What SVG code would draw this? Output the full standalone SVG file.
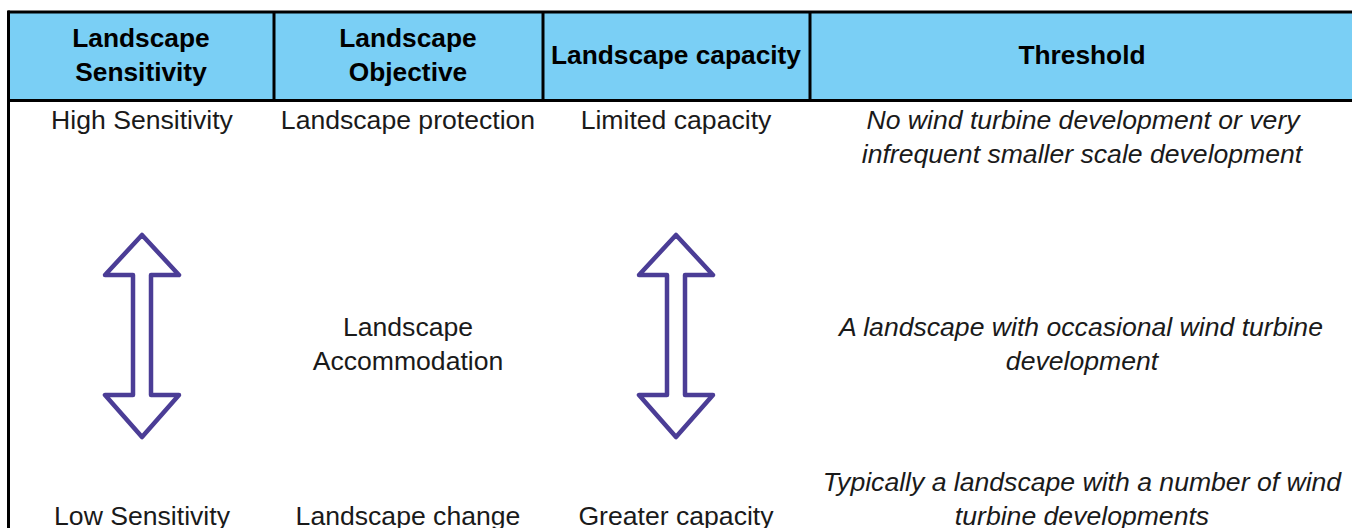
<svg xmlns="http://www.w3.org/2000/svg" xmlns:xlink="http://www.w3.org/1999/xlink" width="1352" height="528" viewBox="0 0 1352 528">
<style>
.hd{font-family:"Liberation Sans",Arial,sans-serif;font-size:26.3px;font-weight:bold;fill:#000;text-anchor:middle}
.tx{font-family:"Liberation Sans",Arial,sans-serif;font-size:26.6px;fill:#1a1a1a;text-anchor:middle}
.it{font-style:italic}
.ln{stroke:#000;stroke-width:3;fill:none}
.arr{fill:#fff;stroke:#4b3d96;stroke-width:4.5;stroke-linejoin:round}
</style>
<defs>
<path id="dblarrow" d="M0,0 L37,40 L9,40 L9,160 L37,160 L0,202 L-37,160 L-9,160 L-9,40 L-37,40 Z"/>
</defs>
<rect width="1352" height="528" fill="#fff"/>
<g id="header">
<rect x="8" y="12" width="1346" height="88" fill="#7acff5"/>
<line class="ln" x1="8" y1="12" x2="1352" y2="12"/>
<line class="ln" x1="8" y1="100.5" x2="1352" y2="100.5"/>
<line class="ln" x1="8.5" y1="10.5" x2="8.5" y2="528"/>
<line class="ln" x1="274" y1="12" x2="274" y2="100"/>
<line class="ln" x1="543" y1="12" x2="543" y2="100"/>
<line class="ln" x1="810" y1="12" x2="810" y2="100"/>
<text class="hd" x="141" y="47">Landscape</text>
<text class="hd" x="141" y="81">Sensitivity</text>
<text class="hd" x="408" y="47">Landscape</text>
<text class="hd" x="408" y="81">Objective</text>
<text class="hd" x="676" y="64">Landscape capacity</text>
<text class="hd" x="1082" y="64">Threshold</text>
</g>
<g id="high-sensitivity"><text class="tx" x="142" y="129">High Sensitivity</text></g>
<g id="landscape-protection"><text class="tx" x="408" y="129">Landscape protection</text></g>
<g id="limited-capacity"><text class="tx" x="676" y="129">Limited capacity</text></g>
<g id="threshold-high"><text class="tx it" x="1083" y="129">No wind turbine development or very</text><text class="tx it" x="1082" y="163">infrequent smaller scale development</text></g>
<g id="landscape-accommodation"><text class="tx" x="408" y="336">Landscape</text><text class="tx" x="408" y="370">Accommodation</text></g>
<g id="threshold-mid"><text class="tx it" x="1081" y="336">A landscape with occasional wind turbine</text><text class="tx it" x="1082" y="370">development</text></g>
<g id="low-sensitivity"><text class="tx" x="142" y="525">Low Sensitivity</text></g>
<g id="landscape-change"><text class="tx" x="408" y="525">Landscape change</text></g>
<g id="greater-capacity"><text class="tx" x="676" y="525">Greater capacity</text></g>
<g id="threshold-low"><text class="tx it" x="1082" y="491">Typically a landscape with a number of wind</text><text class="tx it" x="1082" y="525">turbine developments</text></g>
<g id="connectors">
<use xlink:href="#dblarrow" class="arr" x="142" y="235"/>
<use xlink:href="#dblarrow" class="arr" x="676" y="235"/>
</g>
</svg>
